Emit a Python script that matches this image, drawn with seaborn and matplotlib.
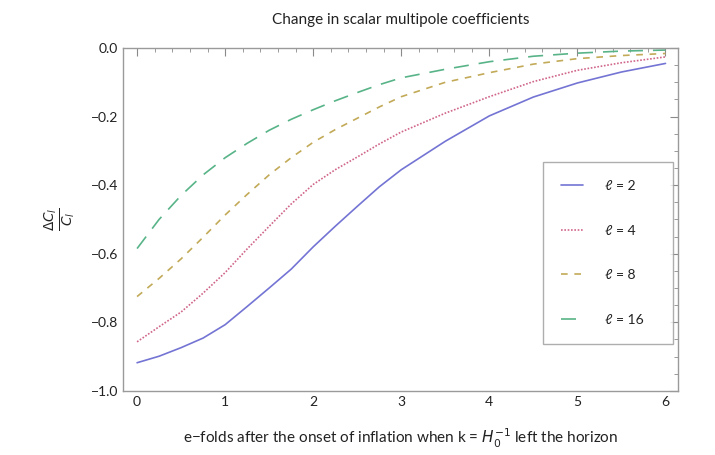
import numpy as np
import pandas as pd
import matplotlib
matplotlib.use("Agg")
import matplotlib.pyplot as plt
from matplotlib.ticker import MultipleLocator, FixedLocator
import seaborn as sns

# e-folds after the onset of inflation
efolds = [0.0, 0.25, 0.5, 0.75, 1.0, 1.25, 1.5, 1.75, 2.0, 2.25, 2.5, 2.75,
          3.0, 3.5, 4.0, 4.5, 5.0, 5.5, 6.0]

# fractional change of the scalar multipole coefficients, one list per multipole
dc_l2 = [-0.918, -0.899, -0.874, -0.846, -0.807, -0.754, -0.700, -0.645,
         -0.580, -0.520, -0.462, -0.405, -0.355, -0.272, -0.198, -0.143,
         -0.102, -0.070, -0.045]
dc_l4 = [-0.857, -0.813, -0.770, -0.715, -0.655, -0.586, -0.520, -0.455,
         -0.398, -0.355, -0.318, -0.280, -0.245, -0.190, -0.142, -0.098,
         -0.065, -0.043, -0.026]
dc_l8 = [-0.725, -0.672, -0.615, -0.552, -0.487, -0.427, -0.370, -0.320,
         -0.275, -0.238, -0.205, -0.172, -0.142, -0.100, -0.072, -0.047,
         -0.031, -0.022, -0.016]
dc_l16 = [-0.585, -0.500, -0.430, -0.370, -0.320, -0.278, -0.240, -0.208,
          -0.180, -0.154, -0.130, -0.107, -0.087, -0.062, -0.040, -0.024,
          -0.015, -0.009, -0.006]

series_labels = ["ℓ = 2", "ℓ = 4", "ℓ = 8", "ℓ = 16"]
series_values = [dc_l2, dc_l4, dc_l8, dc_l16]

x_ticks = [0, 1, 2, 3, 4, 5, 6]
y_ticks = [0.0, -0.2, -0.4, -0.6, -0.8, -1.0]
y_tick_labels = ["0.0", "\u22120.2", "\u22120.4", "\u22120.6", "\u22120.8", "\u22121.0"]

title = "Change in scalar multipole coefficients"
x_label = "e\u2212folds after the onset of inflation when k = $H^{-1}_{0}$ left the horizon"
y_label = r"$\frac{\Delta C_l}{C_l}$"

frames = []
for lab, vals in zip(series_labels, series_values):
    frames.append(pd.DataFrame({"efolds": efolds, "dC": vals, "series": lab}))
df = pd.concat(frames, ignore_index=True)

sns.set_theme(style="white")
plt.rcParams["font.family"] = ["Lato", "DejaVu Sans"]

palette = {
    "ℓ = 2": "#7474d4",
    "ℓ = 4": "#d0668a",
    "ℓ = 8": "#c2aa58",
    "ℓ = 16": "#58b488",
}
dashes = {
    "ℓ = 2": "",
    "ℓ = 4": (1, 1),
    "ℓ = 8": (4, 4),
    "ℓ = 16": (9, 6),
}

fig = plt.figure(figsize=(7.15, 4.55), dpi=100)
ax = fig.add_axes([0.172, 0.141, 0.776, 0.7535])

sns.lineplot(data=df, x="efolds", y="dC", hue="series", style="series",
             palette=palette, dashes=dashes, linewidth=1.2, ax=ax,
             hue_order=series_labels, style_order=series_labels)

ax.set_xlim(-0.16, 6.14)
ax.set_ylim(-1.0, 0.0)

ax.xaxis.set_major_locator(FixedLocator(x_ticks))
ax.xaxis.set_minor_locator(MultipleLocator(0.2))
ax.yaxis.set_major_locator(FixedLocator(y_ticks))
ax.yaxis.set_minor_locator(MultipleLocator(0.05))
ax.set_yticklabels(y_tick_labels)

ax.tick_params(which="both", direction="in", top=True, right=True,
               color="#8a8a8a", labelsize=10, labelcolor="#222222")
ax.tick_params(which="major", length=6, width=0.8)
ax.tick_params(which="minor", length=3, width=0.6)
for s in ax.spines.values():
    s.set_color("#9a9a9a")
    s.set_linewidth(1.0)

ax.set_title(title, fontsize=11, color="#222222", pad=17)
ax.set_xlabel(x_label, fontsize=11, color="#222222", labelpad=14)
ax.set_ylabel(y_label, fontsize=14, color="#222222", rotation=90, labelpad=10)

leg = ax.legend(loc="upper left", bbox_to_anchor=(0.757, 0.143, 0.234, 0.525),
                mode="expand", borderaxespad=0, frameon=True, fancybox=False,
                fontsize=10, labelspacing=2.35, borderpad=1.3,
                handlelength=1.6, handletextpad=1.6, title=None)
leg.get_frame().set_edgecolor("#9a9a9a")
leg.get_frame().set_linewidth(1.0)
for t in leg.get_texts():
    t.set_color("#222222")

fig.savefig("out.png", dpi=100)
